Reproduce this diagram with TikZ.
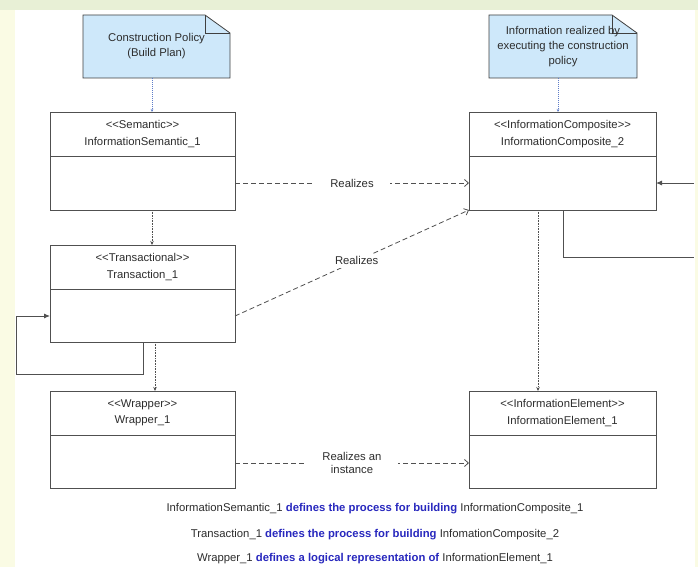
\documentclass[tikz,border=0pt]{standalone}
\usepackage{fontspec}
\setmainfont{Liberation Sans}
\usetikzlibrary{arrows.meta,calc}
\definecolor{bgc}{RGB}{250,251,228}
\definecolor{topc}{RGB}{232,240,214}
\definecolor{linec}{RGB}{80,80,80}
\definecolor{txtc}{RGB}{45,45,45}
\definecolor{notefill}{RGB}{206,232,250}
\definecolor{bluetxt}{RGB}{40,40,190}
\definecolor{notearr}{RGB}{95,125,200}
\newcommand\ltlt{<\kern0pt<}
\newcommand\gtgt{>\kern0pt>}
\tikzset{
 umlbox/.style={draw=linec, line width=0.9pt, fill=white, minimum width=#1, inner sep=0pt, outer sep=0pt},
 divider/.style={draw=linec, line width=0.9pt},
 hdr/.style={font=\fontsize{11.3}{16.5}\selectfont, text=txtc, align=center},
 notebody/.style={inner sep=0pt, outer sep=0pt, minimum width=#1, minimum height=63pt},
 noteline/.style={draw=black!75, line width=0.8pt, fill=notefill},
 notetext/.style={font=\fontsize{11.3}{15}\selectfont, text=txtc, align=center},
 notearrow/.style={draw=notearr, line width=0.5pt, dash pattern=on 1pt off 1pt, -{Stealth[length=3pt,width=2.5pt]}},
 dotarrow/.style={draw=linec, line width=0.7pt, dash pattern=on 0.8pt off 0.8pt, -{Stealth[length=4pt,width=3.5pt]}},
 realize/.style={draw=linec, line width=0.8pt, dash pattern=on 5pt off 3pt, -{Straight Barb[length=4pt,width=7pt]}},
 lbl/.style={fill=white, font=\fontsize{11.3}{13.5}\selectfont, text=txtc, align=center, inner xsep=16pt, inner ysep=2pt},
 lbld/.style={fill=white, font=\fontsize{11.3}{13.5}\selectfont, text=txtc, align=center, inner sep=3pt},
 loopline/.style={draw=linec, line width=0.9pt},
 looparrow/.style={loopline, -{Latex[length=6pt,width=5pt]}},
 caption/.style={font=\fontsize{11.3}{13}\selectfont, text=txtc}
}
\newcommand\hlt[1]{\textcolor{bluetxt}{\textbf{#1}}}
\begin{document}
\begin{tikzpicture}[x=1pt,y=-1pt]
\clip (0,0) rectangle (698,567);
\fill[bgc] (0,0) rectangle (698,567);
\fill[topc] (0,0) rectangle (698,10);
\fill[white] (15,10) rectangle (695,567);

% notes
\node[notebody=147pt] (n1) at (156.5,46.5) {};
\path[noteline] (n1.north west) -- ([xshift=-25pt]n1.north east) -- ([yshift=-18pt]n1.north east) -- (n1.south east) -- (n1.south west) -- cycle;
\draw[draw=black!75, line width=0.8pt] ([xshift=-25pt]n1.north east) |- ([yshift=-18pt]n1.north east);
\node[notetext] (n1t) at (n1) {Construction Policy\\(Build Plan)};

\node[notebody=148pt] (n2) at (563,46.5) {};
\path[noteline] (n2.north west) -- ([xshift=-25pt]n2.north east) -- ([yshift=-18pt]n2.north east) -- (n2.south east) -- (n2.south west) -- cycle;
\draw[draw=black!75, line width=0.8pt] ([xshift=-25pt]n2.north east) |- ([yshift=-18pt]n2.north east);
\node[notetext] (n2t) at (n2) {Information realized by\\executing the construction\\policy};

% boxes
\node[umlbox=185pt, minimum height=98pt] (sem) at (142.5,161) {};
\node[umlbox=185pt, minimum height=97pt] (trans) at (142.5,293.5) {};
\node[umlbox=185pt, minimum height=97pt] (wrap) at (142.5,439.5) {};
\node[umlbox=187pt, minimum height=98pt] (comp) at (562.5,161) {};
\node[umlbox=187pt, minimum height=97pt] (elem) at (562.5,439.5) {};
\foreach \b in {sem,trans,wrap,comp,elem}{
  \draw[divider] ([yshift=-44pt]\b.north west) -- ([yshift=-44pt]\b.north east);
}
\node[hdr] (semh) at ([yshift=-22pt]sem.north) {\ltlt Semantic\gtgt\\InformationSemantic\_1};
\node[hdr] (transh) at ([yshift=-22pt]trans.north) {\ltlt Transactional\gtgt\\Transaction\_1};
\node[hdr] (wraph) at ([yshift=-22pt]wrap.north) {\ltlt Wrapper\gtgt\\Wrapper\_1};
\node[hdr] (comph) at ([yshift=-22pt]comp.north) {\ltlt InformationComposite\gtgt\\InformationComposite\_2};
\node[hdr] (elemh) at ([yshift=-22pt]elem.north) {\ltlt InformationElement\gtgt\\InformationElement\_1};

% note arrows
\draw[notearrow] ([xshift=-4.5pt]n1.south) -- ([xshift=-4.5pt]n1.south |- sem.north);
\draw[notearrow] ([xshift=-5pt]n2.south) -- ([xshift=-5pt]n2.south |- comp.north);

% dotted arrows
\draw[dotarrow] ([xshift=9.5pt]sem.south) -- ([xshift=9.5pt]sem.south |- trans.north);
\draw[dotarrow] ([xshift=12.5pt]trans.south) -- ([xshift=12.5pt]trans.south |- wrap.north);
\draw[dotarrow] ([xshift=-24.5pt]comp.south) -- ([xshift=-24.5pt]comp.south |- elem.north);

% realizes
\draw[realize] ([yshift=-22pt]sem.east) -- node[lbl] (r1) {Realizes} ([yshift=-22pt]comp.west);
\draw[realize] ([yshift=-22.5pt]trans.east) -- node[lbld, pos=0.52] (r2) {Realizes} (comp.south west);
\draw[realize] ([yshift=-23.5pt]wrap.east) -- node[lbl] (r3) {Realizes an\\instance} ([yshift=-23.5pt]elem.west);

% self loops
\coordinate (tl) at (16,374);
\draw[looparrow] ([xshift=0.5pt]trans.south) |- (tl) |- ([yshift=-22.5pt]trans.west);
\coordinate (cr) at (694,257);
\coordinate (cr2) at (694,183);
\draw[loopline] ([xshift=0.5pt]comp.south) |- (cr);
\draw[looparrow] (cr2) -- (comp.east |- cr2);

% captions
\node[caption] (c1) at (375,509) {InformationSemantic\_1 \hlt{defines the process for building} InformationComposite\_1};
\node[caption] (c2) at (375,535) {Transaction\_1 \hlt{defines the process for building} InfomationComposite\_2};
\node[caption] (c3) at (375,559) {Wrapper\_1 \hlt{defines a logical representation of} InformationElement\_1};
\end{tikzpicture}
\end{document}
